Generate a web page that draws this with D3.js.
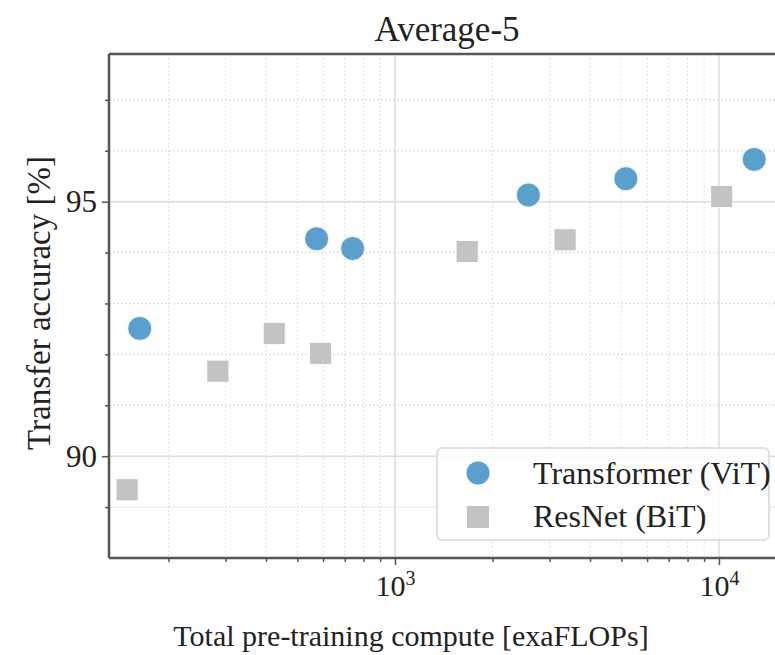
<!DOCTYPE html>
<html lang="en">
<head>
    <meta charset="UTF-8">
    <title>Average-5</title>
    <script src="https://d3js.org/d3.v7.min.js"></script>
    <style>
        body { margin: 0; background: #fff; }
        svg { display: block; }
        text { font-family: "Liberation Serif", "DejaVu Serif", serif; fill: #222; }
    </style>
</head>
<body>
    <svg id="chart" width="775" height="655"></svg>
    <script>
        // Values
        const vitCompute = [163, 573, 740, 2580, 5160, 12850];
        const vitAcc = [92.51, 94.27, 94.08, 95.13, 95.45, 95.83];
        const bitCompute = [149, 284, 424, 589, 1670, 3350, 10200];
        const bitAcc = [89.34, 91.67, 92.41, 92.02, 94.02, 94.25, 95.10];

        const xMajor = [1000, 10000];
        const xMinor = [200, 300, 400, 500, 600, 700, 800, 900,
                        2000, 3000, 4000, 5000, 6000, 7000, 8000, 9000];
        const yMajor = [90, 95];
        const yMinor = [89, 91, 92, 93, 94, 96, 97];

        const seriesNames = ["Transformer (ViT)", "ResNet (BiT)"];

        const width = 775, height = 655;
        const margin = { top: 54, right: -1, bottom: 97, left: 109 };

        const svg = d3.select("#chart");

        const x = d3.scaleLog()
            .domain([131, 15000])
            .range([margin.left, width - margin.right]);
        const y = d3.scaleLinear()
            .domain([88, 97.9])
            .range([height - margin.bottom, margin.top]);

        const plot = svg.append("g");

        // Clip for the plot area
        svg.append("clipPath").attr("id", "clip")
            .append("rect")
            .attr("x", margin.left).attr("y", margin.top)
            .attr("width", x.range()[1] - margin.left)
            .attr("height", y.range()[0] - margin.top);

        const grid = plot.append("g").attr("clip-path", "url(#clip)");

        // minor grid (dotted)
        grid.selectAll(".xminor").data(xMinor).enter().append("line")
            .attr("x1", d => x(d)).attr("x2", d => x(d))
            .attr("y1", y.range()[1]).attr("y2", y.range()[0])
            .attr("stroke", "#e6e6e6").attr("stroke-width", 1.2)
            .attr("stroke-dasharray", "2,2");
        grid.selectAll(".yminor").data(yMinor).enter().append("line")
            .attr("x1", x.range()[0]).attr("x2", x.range()[1])
            .attr("y1", d => y(d)).attr("y2", d => y(d))
            .attr("stroke", "#e2e2e2").attr("stroke-width", 1.5)
            .attr("stroke-dasharray", "2,2");

        // major grid (solid)
        grid.selectAll(".xmajor").data(xMajor).enter().append("line")
            .attr("x1", d => x(d)).attr("x2", d => x(d))
            .attr("y1", y.range()[1]).attr("y2", y.range()[0])
            .attr("stroke", "#dcdcdc").attr("stroke-width", 1.5);
        grid.selectAll(".ymajor").data(yMajor).enter().append("line")
            .attr("x1", x.range()[0]).attr("x2", x.range()[1])
            .attr("y1", d => y(d)).attr("y2", d => y(d))
            .attr("stroke", "#dcdcdc").attr("stroke-width", 1.5);

        // points
        const pts = plot.append("g").attr("clip-path", "url(#clip)");
        const vit = vitCompute.map((c, i) => ({ c, a: vitAcc[i] }));
        const bit = bitCompute.map((c, i) => ({ c, a: bitAcc[i] }));
        const sq = 22;

        pts.selectAll(".bit").data(bit).enter().append("rect")
            .attr("x", d => x(d.c) - sq / 2)
            .attr("y", d => y(d.a) - sq / 2)
            .attr("width", sq).attr("height", sq)
            .attr("fill", "#c3c3c3")
            .attr("stroke", "#fff").attr("stroke-width", 0.8);

        pts.selectAll(".vit").data(vit).enter().append("circle")
            .attr("cx", d => x(d.c))
            .attr("cy", d => y(d.a))
            .attr("r", 12)
            .attr("fill", "#5b9fcc")
            .attr("stroke", "#fff").attr("stroke-width", 0.8);

        // axes
        const axisColor = "#555";
        const xAxis = svg.append("g")
            .attr("transform", `translate(0,${y.range()[0]})`)
            .call(d3.axisBottom(x).tickValues(xMajor).tickSize(7).tickPadding(6).tickFormat(""));
        const xAxisMinor = svg.append("g")
            .attr("transform", `translate(0,${y.range()[0]})`)
            .call(d3.axisBottom(x).tickValues(xMinor).tickSize(4).tickFormat(""));
        const yAxis = svg.append("g")
            .attr("transform", `translate(${x.range()[0]},0)`)
            .call(d3.axisLeft(y).tickValues(yMajor).tickSize(7).tickPadding(5).tickFormat(d3.format("d")));
        const yAxisMinor = svg.append("g")
            .attr("transform", `translate(${x.range()[0]},0)`)
            .call(d3.axisLeft(y).tickValues(yMinor).tickSize(4).tickFormat(""));

        [xAxis, xAxisMinor, yAxis, yAxisMinor].forEach(g => {
            g.select(".domain").remove();
            g.selectAll(".tick line").attr("stroke", axisColor).attr("stroke-width", 1.5);
        });
        yAxis.selectAll(".tick text")
            .attr("font-size", 31)
            .attr("fill", "#222");

        // log labels 10^n
        xAxis.selectAll(".tick").each(function(d) {
            const t = d3.select(this).append("text")
                .attr("y", 38)
                .attr("text-anchor", "middle")
                .attr("font-size", 30)
                .attr("fill", "#222");
            t.append("tspan").text("10");
            t.append("tspan")
                .attr("font-size", 20)
                .attr("dy", -11)
                .text(Math.round(Math.log10(d)));
        });

        // spines
        svg.append("line")
            .attr("x1", x.range()[0]).attr("x2", x.range()[0])
            .attr("y1", y.range()[1]).attr("y2", y.range()[0])
            .attr("stroke", axisColor).attr("stroke-width", 2.5);
        svg.append("line")
            .attr("x1", x.range()[0]).attr("x2", x.range()[1])
            .attr("y1", y.range()[0]).attr("y2", y.range()[0])
            .attr("stroke", axisColor).attr("stroke-width", 2.5);
        svg.append("line")
            .attr("x1", x.range()[0]).attr("x2", x.range()[1])
            .attr("y1", y.range()[1]).attr("y2", y.range()[1])
            .attr("stroke", axisColor).attr("stroke-width", 2.5);

        // title and axis labels
        svg.append("text")
            .attr("x", 447).attr("y", 41)
            .attr("text-anchor", "middle")
            .attr("font-size", 35)
            .text("Average-5");
        svg.append("text")
            .attr("x", 411).attr("y", 646)
            .attr("text-anchor", "middle")
            .attr("font-size", 30)
            .text("Total pre-training compute [exaFLOPs]");
        svg.append("text")
            .attr("transform", "translate(50,303) rotate(-90)")
            .attr("text-anchor", "middle")
            .attr("font-size", 33)
            .text("Transfer accuracy [%]");

        // legend
        const lg = svg.append("g").attr("transform", "translate(437,448)");
        lg.append("rect")
            .attr("width", 332).attr("height", 92)
            .attr("rx", 5)
            .attr("fill", "#fff").attr("fill-opacity", 0.85)
            .attr("stroke", "#d8d8d8").attr("stroke-width", 1.5);
        lg.append("circle")
            .attr("cx", 41).attr("cy", 25).attr("r", 12)
            .attr("fill", "#5b9fcc").attr("stroke", "#fff").attr("stroke-width", 0.8);
        lg.append("rect")
            .attr("x", 41 - sq / 2).attr("y", 69 - sq / 2)
            .attr("width", sq).attr("height", sq)
            .attr("fill", "#c3c3c3");
        lg.selectAll(".lab").data(seriesNames).enter().append("text")
            .attr("x", 96)
            .attr("y", (d, i) => 36 + i * 43)
            .attr("font-size", 32)
            .text(d => d);
    </script>
</body>
</html>
